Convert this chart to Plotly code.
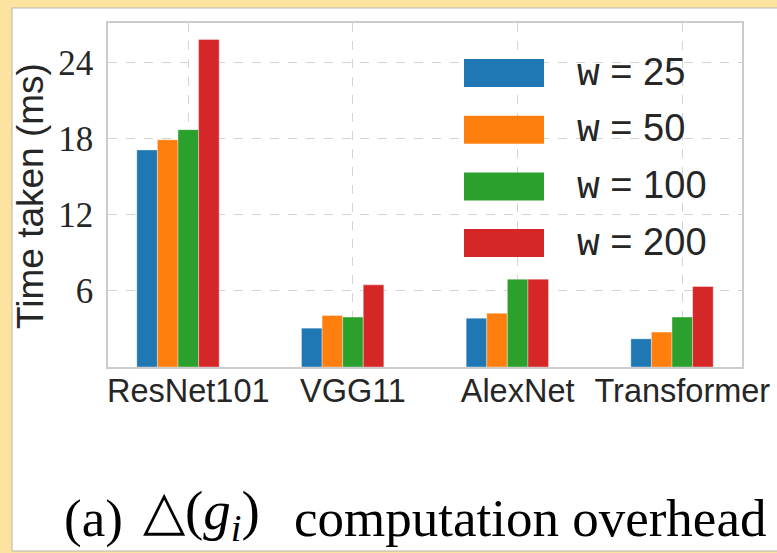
import plotly.graph_objects as go

# Per-model timing of the delta computation (ms) for each window size w
models = ["ResNet101", "VGG11", "AlexNet", "Transformer"]
window_labels = ["25", "50", "100", "200"]
time_w25 = [17.1, 3.06, 3.85, 2.22]
time_w50 = [17.9, 4.06, 4.24, 2.75]
time_w100 = [18.7, 3.93, 6.92, 3.93]
time_w200 = [25.8, 6.47, 6.92, 6.34]
y_ticks = [6, 12, 18, 24]

series = [time_w25, time_w50, time_w100, time_w200]
colors = ["#1f77b4", "#ff7f0e", "#2ca02c", "#d62728"]

W, H = 777, 553
ML, MR, MT, MB = 108, 35, 23, 186
PW, PH = W - ML - MR, H - MT - MB
BAR_W = 0.125


def px_x(px):
    return (px - ML) / PW


def px_y(py):
    return (H - MB - py) / PH


fig = go.Figure()
positions = list(range(len(models)))
for k, (vals, col) in enumerate(zip(series, colors)):
    fig.add_trace(go.Bar(
        x=positions, y=vals, width=BAR_W, offset=(k - 2.5) * BAR_W,
        marker=dict(color=col, line=dict(color="rgba(255,255,255,0.6)", width=0.6)),
        showlegend=False,
    ))

TEXT = "#262626"
GRID = "#d4d4d4"
FRAME = "#cccccc"

fig.update_layout(
    width=W, height=H,
    margin=dict(l=ML, r=MR, t=MT, b=MB, pad=0, autoexpand=False),
    paper_bgcolor="#fce3a0",
    plot_bgcolor="white",
    barmode="overlay",
    xaxis=dict(
        range=[-0.4875, 3.3625], tickmode="array", tickvals=positions, ticktext=models,
        showgrid=True, gridcolor=GRID, griddash="dash", gridwidth=1,
        showline=True, linecolor=FRAME, linewidth=1.5, mirror=True,
        ticks="", zeroline=False, ticklabelstandoff=-6, automargin=False,
        tickfont=dict(family="Liberation Sans", size=32.5, color=TEXT),
    ),
    yaxis=dict(
        range=[0, 27.1], tickmode="array", tickvals=y_ticks,
        showgrid=True, gridcolor=GRID, griddash="dash", gridwidth=1,
        showline=True, linecolor=FRAME, linewidth=1.5, mirror=True,
        ticks="", zeroline=False, ticklabelstandoff=6, automargin=False,
        tickfont=dict(family="Liberation Serif", size=35, color=TEXT),
    ),
)

shapes = [
    # white page panel behind the figure
    dict(type="rect", xref="paper", yref="paper", layer="below",
         x0=px_x(12), x1=px_x(778), y0=px_y(551), y1=px_y(8),
         fillcolor="white", line=dict(color="#b5b5b5", width=1)),
]

caption_parts = [
    ("(a)", 62, 53, 518),
    ("△(<i>g</i><sub><i>i</i></sub>)", 141, 55, 514),
    ("computation overhead", 292, 53, 518),
]
annotations = [
    dict(text="Time taken (ms)", xref="paper", yref="paper",
         x=px_x(30), y=px_y(196), xanchor="center", yanchor="middle",
         textangle=-90, showarrow=False,
         font=dict(family="Liberation Sans", size=37, color=TEXT)),
]
for txt, left, size, mid in caption_parts:
    annotations.append(dict(
        text=txt, xref="paper", yref="paper", x=px_x(left), y=px_y(mid),
        xanchor="left", yanchor="middle", showarrow=False,
        font=dict(family="Liberation Serif", size=size, color="black")))

# legend: wide colour swatches with labels
for k, (lab, col) in enumerate(zip(window_labels, colors)):
    cy = 73 + k * 56.7
    shapes.append(dict(type="rect", xref="paper", yref="paper",
                       x0=px_x(464), x1=px_x(544), y0=px_y(cy + 14), y1=px_y(cy - 14),
                       fillcolor=col, line=dict(width=0)))
    annotations.append(dict(
        text="<span style='font-family:Liberation Mono'>w</span> = " + lab,
        xref="paper", yref="paper", x=px_x(575), y=px_y(cy),
        xanchor="left", yanchor="middle", showarrow=False,
        font=dict(family="Liberation Sans", size=38, color=TEXT)))

fig.update_layout(shapes=shapes, annotations=annotations)
fig.write_html("out.html")
